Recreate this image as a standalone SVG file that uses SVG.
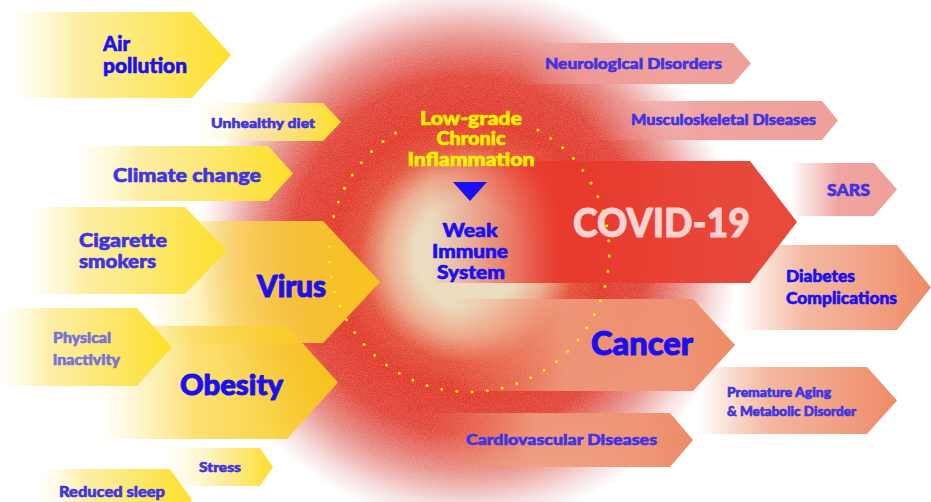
<svg xmlns="http://www.w3.org/2000/svg" width="931" height="502" viewBox="0 0 931 502">
<defs>
<radialGradient id="blob" gradientUnits="userSpaceOnUse" cx="468" cy="255" r="270">
<stop offset="0" stop-color="#e9dfc4"/>
<stop offset="0.2" stop-color="#ebd9bb"/>
<stop offset="0.3" stop-color="#eca88a"/>
<stop offset="0.4" stop-color="#e45038"/>
<stop offset="0.5" stop-color="#e23a2c"/>
<stop offset="0.66" stop-color="#e2463a"/>
<stop offset="0.8" stop-color="#e8908a"/>
<stop offset="0.92" stop-color="#f6dcdc"/>
<stop offset="1" stop-color="#ffffff"/>
</radialGradient>
<linearGradient id="yel" x1="0" y1="0" x2="1" y2="0">
<stop offset="0" stop-color="#fff6c0" stop-opacity="0"/>
<stop offset="0.3" stop-color="#fcec9a" stop-opacity="0.9"/>
<stop offset="1" stop-color="#fde02a"/>
</linearGradient>
<linearGradient id="yelS" x1="0" y1="0" x2="1" y2="0">
<stop offset="0" stop-color="#fff6c0" stop-opacity="0"/>
<stop offset="0.55" stop-color="#fcea90" stop-opacity="0.9"/>
<stop offset="1" stop-color="#fde02a"/>
</linearGradient>
<linearGradient id="yelV" x1="0" y1="0" x2="1" y2="0">
<stop offset="0" stop-color="#fde870" stop-opacity="0"/>
<stop offset="0.4" stop-color="#fbd850" stop-opacity="0.8"/>
<stop offset="1" stop-color="#f8c818" stop-opacity="0.95"/>
</linearGradient>
<linearGradient id="pink" x1="0" y1="0" x2="1" y2="0">
<stop offset="0" stop-color="#ef9a96" stop-opacity="0"/>
<stop offset="0.3" stop-color="#ef9a96" stop-opacity="0.9"/>
<stop offset="1" stop-color="#f0a09a"/>
</linearGradient>
<linearGradient id="pinkS" x1="0" y1="0" x2="1" y2="0">
<stop offset="0" stop-color="#ef9a96" stop-opacity="0"/>
<stop offset="0.45" stop-color="#ef9a96" stop-opacity="0.9"/>
<stop offset="1" stop-color="#f0a09a"/>
</linearGradient>
<linearGradient id="red" x1="0" y1="0" x2="1" y2="0">
<stop offset="0" stop-color="#e8382c" stop-opacity="0"/>
<stop offset="0.35" stop-color="#e8382c" stop-opacity="0.95"/>
<stop offset="1" stop-color="#e84a3c"/>
</linearGradient>
<linearGradient id="sal" x1="0" y1="0" x2="1" y2="0">
<stop offset="0" stop-color="#f0906a" stop-opacity="0"/>
<stop offset="0.35" stop-color="#f0a080" stop-opacity="0.75"/>
<stop offset="1" stop-color="#ef8a66"/>
</linearGradient>
<linearGradient id="salL" x1="0" y1="0" x2="1" y2="0">
<stop offset="0" stop-color="#f0906a" stop-opacity="0"/>
<stop offset="0.4" stop-color="#f0a080" stop-opacity="0.85"/>
<stop offset="1" stop-color="#ee8a68"/>
</linearGradient>
<filter id="grain" x="0" y="0" width="100%" height="100%">
<feTurbulence type="fractalNoise" baseFrequency="0.9" numOctaves="2" seed="3"/>
<feColorMatrix type="matrix" values="0 0 0 0 1  0 0 0 0 1  0 0 0 0 1  0 0 0 -2.2 1.35"/>
</filter>
<radialGradient id="grainMaskG" gradientUnits="userSpaceOnUse" cx="468" cy="255" r="270">
<stop offset="0" stop-color="#fff" stop-opacity="0.5"/>
<stop offset="0.8" stop-color="#fff" stop-opacity="0.6"/>
<stop offset="1" stop-color="#fff" stop-opacity="0"/>
</radialGradient>
<mask id="grainMask"><rect width="931" height="502" fill="url(#grainMaskG)"/></mask>
</defs>
<style>
text{font-family:Lato,"Open Sans","Liberation Sans",sans-serif;font-weight:900;stroke-width:0.6;stroke-linejoin:round}
.b{fill:#1a10f0;stroke:#1a10f0}
.m{fill:#4134e2;stroke:#4134e2}
.l{fill:#7a72d6;stroke:#7a72d6}
.y{fill:#fff000;stroke:#fff000}
.w{fill:#f9d2d0;stroke:#f9d2d0;stroke-width:1}
.dots{fill:none;stroke:#fff200;stroke-width:3;stroke-linecap:round;stroke-dasharray:0 15.2}
</style>
<rect width="931" height="502" fill="#ffffff"/>
<g id="background">
<circle cx="468" cy="255" r="270" fill="url(#blob)"/>
<rect width="931" height="502" filter="url(#grain)" mask="url(#grainMask)" opacity="0.35"/>
</g>
<g id="arrows-right">
<g id="neurological"><path d="M520 43H733L751 63.5L733 84H520Z" fill="url(#pink)"/><text class="m" x="545" y="69" font-size="15" textLength="177" lengthAdjust="spacingAndGlyphs">Neurological Disorders</text></g>
<g id="musculoskeletal"><path d="M585 101H822L838 120.5L822 140H585Z" fill="url(#pinkS)"/><text class="m" x="631" y="125" font-size="15" textLength="185" lengthAdjust="spacingAndGlyphs">Musculoskeletal Diseases</text></g>
<g id="sars"><path d="M790 163H874L897 189.5L874 216H790Z" fill="url(#pinkS)"/><text class="m" x="827" y="196" font-size="16" textLength="43" lengthAdjust="spacingAndGlyphs">SARS</text></g>
<g id="diabetes"><path d="M740 245H897L931 287.5L897 330H740Z" fill="url(#sal)"/><text class="b" x="786" y="282" font-size="16.5" textLength="69" lengthAdjust="spacingAndGlyphs">Diabetes</text><text class="b" x="786" y="304" font-size="16.5" textLength="111" lengthAdjust="spacingAndGlyphs">Complications</text></g>
<g id="premature"><path d="M700 367H867L897 400.5L867 434H700Z" fill="url(#sal)"/><text class="m" x="727" y="397" font-size="13" textLength="104" lengthAdjust="spacingAndGlyphs">Premature Aging</text><text class="m" x="727" y="416" font-size="13" textLength="129" lengthAdjust="spacingAndGlyphs">&amp; Metabolic Disorder</text></g>
<g id="cardiovascular"><path d="M430 413H670L693 440L670 467H430Z" fill="url(#salL)"/><text class="m" x="466" y="445" font-size="15" textLength="191" lengthAdjust="spacingAndGlyphs">Cardiovascular Diseases</text></g>
<g id="cancer"><path d="M450 299H693L735 345L693 391H450Z" fill="url(#salL)"/><text class="b" x="591" y="355" font-size="33" textLength="102" lengthAdjust="spacingAndGlyphs" style="stroke-width:1">Cancer</text></g>
<g id="covid"><path d="M430 161H750L797 222L750 283H430Z" fill="url(#red)"/><text class="w" x="573" y="237" font-size="40" textLength="177" lengthAdjust="spacingAndGlyphs">COVID-19</text></g>
</g>
<g id="arrows-left">
<g id="air-pollution"><path d="M10 12H192L231 55L192 98H10Z" fill="url(#yel)"/><text class="b" x="103" y="51" font-size="20.5" textLength="27" lengthAdjust="spacingAndGlyphs">Air</text><text class="b" x="103" y="73" font-size="20.5" textLength="84" lengthAdjust="spacingAndGlyphs">pollution</text></g>
<g id="unhealthy-diet"><path d="M195 103H323L341 122L323 141H195Z" fill="url(#yelS)"/><text class="m" x="211" y="128" font-size="14" textLength="104" lengthAdjust="spacingAndGlyphs">Unhealthy diet</text></g>
<g id="climate-change"><path d="M75 146H268L293 173.5L268 201H75Z" fill="url(#yel)"/><text class="m" x="113" y="182" font-size="19" textLength="148" lengthAdjust="spacingAndGlyphs">Climate change</text></g>
<g id="virus"><path d="M150 221H323L380 282L323 343H150Z" fill="url(#yelV)"/><text class="b" x="257" y="297" font-size="30" textLength="69" lengthAdjust="spacingAndGlyphs" style="stroke-width:1">Virus</text></g>
<g id="cigarette"><path d="M25 207H185L227 250.5L185 294H25Z" fill="url(#yel)"/><text class="m" x="79" y="247" font-size="18.5" textLength="88" lengthAdjust="spacingAndGlyphs">Cigarette</text><text class="m" x="79" y="268" font-size="18.5" textLength="77" lengthAdjust="spacingAndGlyphs">smokers</text></g>
<g id="obesity"><path d="M100 326H287L338 382.5L287 439H100Z" fill="url(#yelV)"/><text class="b" x="180" y="395" font-size="29" textLength="103" lengthAdjust="spacingAndGlyphs" style="stroke-width:1">Obesity</text></g>
<g id="physical-inactivity"><path d="M0 308H137L172 347L137 386H0Z" fill="url(#yel)"/><text class="l" x="53" y="343" font-size="14.5" textLength="58" lengthAdjust="spacingAndGlyphs">Physical</text><text class="l" x="53" y="365" font-size="14.5" textLength="67" lengthAdjust="spacingAndGlyphs">inactivity</text></g>
<g id="stress"><path d="M165 448H260L273 467L260 486H165Z" fill="url(#yelS)"/><text class="m" x="199" y="472" font-size="14" textLength="42" lengthAdjust="spacingAndGlyphs">Stress</text></g>
<g id="reduced-sleep"><path d="M40 469H170L192 500L170 531H40Z" fill="url(#yel)"/><text class="m" x="59" y="497" font-size="15" textLength="106" lengthAdjust="spacingAndGlyphs">Reduced sleep</text></g>
</g>
<g id="connectors">
<path class="dots" d="M538 130A140 140 0 1 1 404 128"/>
<path d="M453 182H487L470 201Z" fill="#1a10f0"/>
</g>
<g id="inflammation">
<text class="y" x="471" y="125" font-size="18" text-anchor="middle" textLength="102" lengthAdjust="spacingAndGlyphs">Low-grade</text>
<text class="y" x="471" y="145" font-size="18" text-anchor="middle" textLength="69" lengthAdjust="spacingAndGlyphs">Chronic</text>
<text class="y" x="471" y="166" font-size="18" text-anchor="middle" textLength="127" lengthAdjust="spacingAndGlyphs">Inflammation</text>
</g>
<g id="immune-system">
<text class="b" x="470" y="237" font-size="18" text-anchor="middle" textLength="55" lengthAdjust="spacingAndGlyphs">Weak</text>
<text class="b" x="470" y="258" font-size="18" text-anchor="middle" textLength="76" lengthAdjust="spacingAndGlyphs">Immune</text>
<text class="b" x="471" y="279" font-size="18" text-anchor="middle" textLength="68" lengthAdjust="spacingAndGlyphs">System</text>
</g>
</svg>
